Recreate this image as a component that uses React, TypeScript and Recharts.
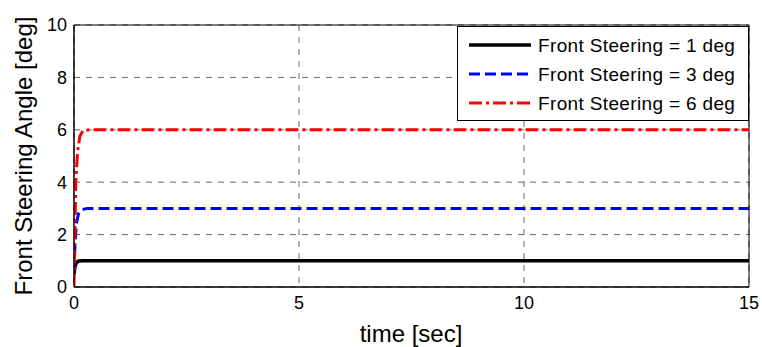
import React from 'react';
import { LineChart, Line, XAxis, YAxis, CartesianGrid, ReferenceArea, Legend } from 'recharts';

const steer1 = [
  { t: 0, y: 0.5 }, { t: 0.02, y: 0.75 }, { t: 0.05, y: 0.92 }, { t: 0.1, y: 0.99 }, { t: 0.2, y: 1 }, { t: 15, y: 1 },
];
const steer3 = [
  { t: 0, y: 0.6 }, { t: 0.02, y: 1.5 }, { t: 0.05, y: 2.4 }, { t: 0.1, y: 2.8 }, { t: 0.17, y: 2.95 }, { t: 0.3, y: 3 }, { t: 15, y: 3 },
];
const steer6 = [
  { t: 0, y: 0 }, { t: 0.02, y: 2 }, { t: 0.04, y: 4 }, { t: 0.08, y: 5.2 }, { t: 0.13, y: 5.75 }, { t: 0.2, y: 5.97 }, { t: 0.35, y: 6 }, { t: 15, y: 6 },
];
const xTicks = [0, 5, 10, 15];
const yTicks = [0, 2, 4, 6, 8, 10];
const legendItems = [
  { label: 'Front Steering = 1 deg', color: '#000000', dash: undefined as string | undefined, width: 3.5 },
  { label: 'Front Steering = 3 deg', color: '#0000FF', dash: '11 5', width: 3 },
  { label: 'Front Steering = 6 deg', color: '#FF0000', dash: '13 4 3 4', width: 3 },
];

const FONT = '"Liberation Sans", Arial, sans-serif';

const YLabel = () => (
  <text x={32} y={156} transform="rotate(-90 32 156)" textAnchor="middle" fontSize={24} fontFamily={FONT} fill="#000">
    Front Steering Angle [deg]
  </text>
);

const XLabel = () => (
  <text x={411} y={342} textAnchor="middle" fontSize={24} fontFamily={FONT} fill="#000">
    time [sec]
  </text>
);

const LegendBox = () => (
  <div style={{ width: 292, height: 95, border: '1px solid #000', background: '#fff', boxSizing: 'border-box' }}>
    <svg width={290} height={93} style={{ display: 'block' }}>
      {legendItems.map((it, i) => {
        const y = 18 + i * 29;
        return (
          <g key={it.label}>
            <line x1={11} x2={73} y1={y} y2={y} stroke={it.color} strokeWidth={it.width} strokeDasharray={it.dash} />
            <text x={80} y={y + 6.5} fontSize={19} fontFamily={FONT} letterSpacing={0.35} fill="#000">{it.label}</text>
          </g>
        );
      })}
    </svg>
  </div>
);

export default function App() {
  return (
    <div style={{ position: 'absolute', left: 0, top: 0, width: 762, height: 347, background: '#fff' }}>
      <LineChart width={762} height={347} margin={{ top: 25, right: 13, bottom: 0, left: 24 }}>
        <CartesianGrid stroke="#666" strokeDasharray="6 6" strokeWidth={1} />
        <XAxis
          type="number"
          dataKey="t"
          domain={[0, 15]}
          ticks={xTicks}
          allowDataOverflow
          height={60}
          tickLine={false}
          tickSize={6}
          tickMargin={3}
          axisLine={{ stroke: '#000' }}
          tick={{ fontSize: 18, fontFamily: FONT, fill: '#000' }}
          label={<XLabel />}
        />
        <YAxis
          type="number"
          domain={[0, 10]}
          ticks={yTicks}
          width={50}
          tickLine={false}
          tickSize={5}
          tickMargin={2}
          axisLine={{ stroke: '#000' }}
          tick={{ fontSize: 18, fontFamily: FONT, fill: '#000' }}
          label={<YLabel />}
        />
        <ReferenceArea x1={0} x2={15} y1={0} y2={10} fill="none" stroke="#000" strokeWidth={1} ifOverflow="extendDomain" />
        <Line data={steer1} dataKey="y" stroke="#000" strokeWidth={3.5} dot={false} isAnimationActive={false} type="linear" />
        <Line data={steer3} dataKey="y" stroke="#0000FF" strokeWidth={3} strokeDasharray="11 5" dot={false} isAnimationActive={false} type="linear" />
        <Line data={steer6} dataKey="y" stroke="#FF0000" strokeWidth={3} strokeDasharray="13 4 3 4" dot={false} isAnimationActive={false} type="linear" />
        <Legend
          layout="horizontal"
          verticalAlign="middle"
          align="center"
          content={<LegendBox />}
          wrapperStyle={{ position: 'absolute', left: 457, top: 26, width: 292, height: 95 }}
        />
      </LineChart>
    </div>
  );
}
